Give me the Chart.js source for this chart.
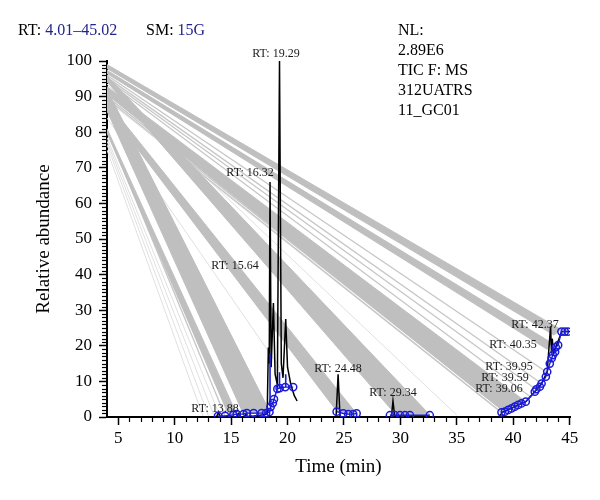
<!DOCTYPE html>
<html><head><meta charset="utf-8">
<script src="https://cdn.jsdelivr.net/npm/chart.js@4"></script>
<style>html,body{margin:0;padding:0;background:#fff}</style>
</head><body>
<canvas id="c" width="600" height="500"></canvas>
<script>
// ---------- data ----------
const timeMin = 4.01, timeMax = 45.02;
const xTickValues = [5, 10, 15, 20, 25, 30, 35, 40, 45];
const yTickValues = [0, 10, 20, 30, 40, 50, 60, 70, 80, 90, 100];

// TIC chromatogram (black)
const ticTime  = [4.01, 13.7, 13.88, 14.05, 15.5, 15.64, 15.8, 16.2, 16.32, 16.45, 18.2, 18.3, 18.38, 18.45, 18.55, 18.75, 18.9, 19.1, 19.29, 19.45, 19.6, 19.84, 20.0, 20.3, 20.6, 20.85, 20.9, 21.0, 24.3, 24.48, 24.65, 29.2, 29.34, 29.5, 38.7, 39.06, 39.5, 40.5, 41.1, 41.9, 42.5, 43.0, 43.3, 43.38, 43.45, 43.55, 44.3, 45.02];
const ticAbund = [0, 0, 1.3, 0, 0, 1.0, 0, 0, 0.8, 0, 0.8, 19.5, 15, 66, 14, 32, 12, 9, 100, 15, 11, 27.5, 14, 9, 6, 4.5, null, 0, 0, 12, 0, 0, 4.5, 0, 0, 1.4, 2.0, 3.4, 4.3, 7.1, 9.4, 12.7, 25.5, 18, 22, 18, 24, 24];

// smoothed trace with markers (blue)
const smTime  = [13.85, 14.47, 15.2, 15.5, 16.1, 16.4, 17.0, 17.7, 18.1, 18.4, 18.5, 18.7, 18.8, 19.1, 19.3, 19.8, 20.5, 22, 24.35, 24.94, 25.38, 25.82, 26.12, 27.5, 29.07, 29.5, 29.96, 30.4, 30.84, 32.6, 35, 38.95, 39.25, 39.55, 39.84, 40.13, 40.43, 40.72, 41.1, 41.9, 42.04, 42.35, 42.5, 42.88, 43.0, 43.23, 43.4, 43.5, 43.7, 43.76, 43.97, 44.26, 44.56, 44.85];
const smAbund = [0.3, 0.3, 0.6, 0.8, 0.8, 1.1, 1.1, 1.1, 1.1, 1.4, 2.8, 3.9, 5.0, 7.9, 8.1, 8.4, 8.4, null, 1.5, 1.0, 0.8, 0.8, 1.0, null, 0.5, 0.5, 0.5, 0.5, 0.5, 0.5, null, 1.3, 1.5, 2.0, 2.4, 2.9, 3.4, 3.8, 4.3, 7.1, 7.8, 8.5, 9.4, 11.3, 12.7, 15.0, 16.5, 17.4, 18.3, 19.6, 20.2, 24, 24, 24];

// blue segments over peaks
const spikeTime = [18.45, 19.29, 19.84];
const spikeLow  = [3.0, 8.1, 8.4];
const spikeHigh = [18, 12.6, 12];

// grey bands: upper/lower edge value at left edge, and each edge's end point
const bandTopStart = [99.0, 97.4, 95.8, 92.8, 88.6, 92.0, 81.0];
const bandBotStart = [97.9, 96.5, 94.2, 90.6, 86.6, 86.0, 79.8];
const bandTopEndT  = [44.2, 43.4, 32.6, 41.1, 26.1, 18.45, 15.5];
const bandTopEndV  = [24.6, 20.8, 0.6, 4.3, 1.0, 1.4, 0.8];
const bandBotEndT  = [43.6, 43.0, 29.6, 39.2, 24.4, 16.1, 14.8];
const bandBotEndV  = [23.0, 19.0, 0.6, 1.4, 1.5, 0.8, 0.4];

// single grey connector lines
const lineStart = [96.0, 95.4, 94.9, 94.3, 90.0, 89.4, 87.5, 80.6];
const lineEndT  = [42.9, 42.5, 42.0, 41.6, 39.25, 38.95, 25.38, 14.47];
const lineEndV  = [12.7, 9.4, 7.8, 5.5, 1.5, 1.3, 0.8, 0.3];
const faintStart = [93.5, 89.0, 84.0, 78.5, 77.5, 76.5, 75.0];
const faintEndT  = [35.0, 38.9, 20.5, 14.0, 13.5, 13.0, 12.5];
const faintEndV  = [0.5, 1.3, 8.4, 0.3, 0.3, 0.3, 0.3];

// peak labels
const peakLabels = ['RT: 19.29', 'RT: 16.32', 'RT: 15.64', 'RT: 13.88', 'RT: 24.48', 'RT: 29.34', 'RT: 42.37', 'RT: 40.35', 'RT: 39.95', 'RT: 39.59', 'RT: 39.06'];
const peakLabelT = [18.98, 16.68, 15.35, 13.58, 24.47, 29.34, 41.92, 39.97, 39.62, 39.26, 38.73];
const peakLabelV = [102, 68.5, 42.4, 2.2, 13.5, 6.7, 25.8, 20.2, 14.0, 10.9, 7.9];

// ---------- build ----------
const SERIF = '"Liberation Serif", "DejaVu Serif", serif';
const BLUE = '#1a1ad8';
const GREY = '#bfbfbf';
const datasets = [];

datasets.push({
  label: 'SM', order: 0,
  data: smTime.map((t, i) => ({x: t, y: smAbund[i]})),
  borderColor: BLUE, borderWidth: 1.4, spanGaps: false,
  pointRadius: 3.6, pointStyle: 'circle', pointBorderColor: BLUE,
  pointBackgroundColor: 'rgba(255,255,255,0)', pointBorderWidth: 1.5
});
const spikeData = [];
spikeTime.forEach((t, i) => {
  spikeData.push({x: t, y: spikeLow[i]}, {x: t, y: spikeHigh[i]}, {x: t + 0.01, y: null});
});
datasets.push({label: 'spikes', order: 1, data: spikeData, borderColor: BLUE, borderWidth: 1.6, pointRadius: 0, spanGaps: false});
datasets.push({
  label: 'TIC', order: 2,
  data: ticTime.map((t, i) => ({x: t, y: ticAbund[i]})),
  borderColor: '#000', borderWidth: 1.5, pointRadius: 0, spanGaps: false
});
bandTopStart.forEach((s, i) => datasets.push({
  label: 'band' + i, order: 3,
  data: [{x: timeMin, y: s}, {x: bandTopEndT[i], y: bandTopEndV[i]},
         {x: bandBotEndT[i], y: bandBotEndV[i]}, {x: timeMin, y: bandBotStart[i]}],
  borderColor: GREY, backgroundColor: GREY, borderWidth: 1, pointRadius: 0, fill: 'shape'
}));
lineStart.forEach((s, i) => datasets.push({
  label: 'l' + i, order: 4,
  data: [{x: timeMin, y: s}, {x: lineEndT[i], y: lineEndV[i]}],
  borderColor: '#c6c6c6', borderWidth: 1.3, pointRadius: 0
}));
faintStart.forEach((s, i) => datasets.push({
  label: 'f' + i, order: 5,
  data: [{x: timeMin, y: s}, {x: faintEndT[i], y: faintEndV[i]}],
  borderColor: '#e0e0e0', borderWidth: 1, pointRadius: 0
}));

const textPlugin = {
  id: 'texts',
  afterDraw(chart) {
    const ctx = chart.ctx, xs = chart.scales.x, ys = chart.scales.y, ca = chart.chartArea;
    ctx.save();
    // minor ticks
    ctx.strokeStyle = '#000'; ctx.lineWidth = 1.2;
    for (let v = 1; v < 100; v++) {
      if (v % 10 === 0) continue;
      const py = Math.round(ys.getPixelForValue(v)) + 0.5;
      ctx.beginPath(); ctx.moveTo(ca.left - 5, py); ctx.lineTo(ca.left, py); ctx.stroke();
    }
    for (let t = 5; t <= 45; t++) {
      if (t % 5 === 0) continue;
      const px = Math.round(xs.getPixelForValue(t)) + 0.5;
      ctx.beginPath(); ctx.moveTo(px, ca.bottom); ctx.lineTo(px, ca.bottom + 5); ctx.stroke();
    }
    // peak labels
    ctx.font = '12px ' + SERIF; ctx.fillStyle = '#1a1a1a';
    ctx.textAlign = 'center'; ctx.textBaseline = 'middle';
    peakLabels.forEach((s, i) => ctx.fillText(s, xs.getPixelForValue(peakLabelT[i]), ys.getPixelForValue(peakLabelV[i])));
    // header
    ctx.font = '16px ' + SERIF; ctx.textAlign = 'left'; ctx.textBaseline = 'middle';
    const part = (txt, x, y, col) => { ctx.fillStyle = col; ctx.fillText(txt, x, y); return x + ctx.measureText(txt).width; };
    let x = part('RT: ', 18, 31, '#000'); part('4.01\u201345.02', x, 31, '#23238e');
    x = part('SM: ', 146, 31, '#000'); part('15G', x, 31, '#23238e');
    ctx.fillStyle = '#000';
    ['NL:', '2.89E6', 'TIC F: MS', '312UATRS', '11_GC01'].forEach((s, i) => ctx.fillText(s, 398, 31 + i * 20));
    ctx.restore();
  }
};

new Chart(document.getElementById('c'), {
  type: 'line',
  data: {datasets},
  plugins: [textPlugin],
  options: {
    responsive: false, animation: false,
    layout: {padding: {left: 0, top: 61, right: 30, bottom: 0}},
    plugins: {legend: {display: false}, tooltip: {enabled: false}},
    scales: {
      x: {
        type: 'linear', min: timeMin, max: timeMax,
        afterBuildTicks: s => { s.ticks = xTickValues.map(v => ({value: v})); },
        afterFit: s => { s.height = 83; },
        ticks: {font: {family: SERIF, size: 17}, color: '#000', padding: 3, maxRotation: 0, autoSkip: false},
        grid: {drawOnChartArea: false, tickLength: 8, tickColor: '#000', tickWidth: 1.5},
        border: {color: '#000', width: 2},
        title: {display: true, text: 'Time (min)', color: '#000', font: {family: SERIF, size: 19}, padding: {top: 0, bottom: 22}}
      },
      y: {
        type: 'linear', min: 0, max: 100,
        afterBuildTicks: s => { s.ticks = yTickValues.map(v => ({value: v})); },
        afterFit: s => { s.width = 107; },
        ticks: {font: {family: SERIF, size: 17}, color: '#000', padding: 7, autoSkip: false},
        grid: {drawOnChartArea: false, tickLength: 8, tickColor: '#000', tickWidth: 1.5},
        border: {color: '#000', width: 2},
        title: {display: true, text: 'Relative abundance', color: '#000', font: {family: SERIF, size: 19}, padding: {top: 33, bottom: 0}}
      }
    }
  }
});
</script>
</body></html>
